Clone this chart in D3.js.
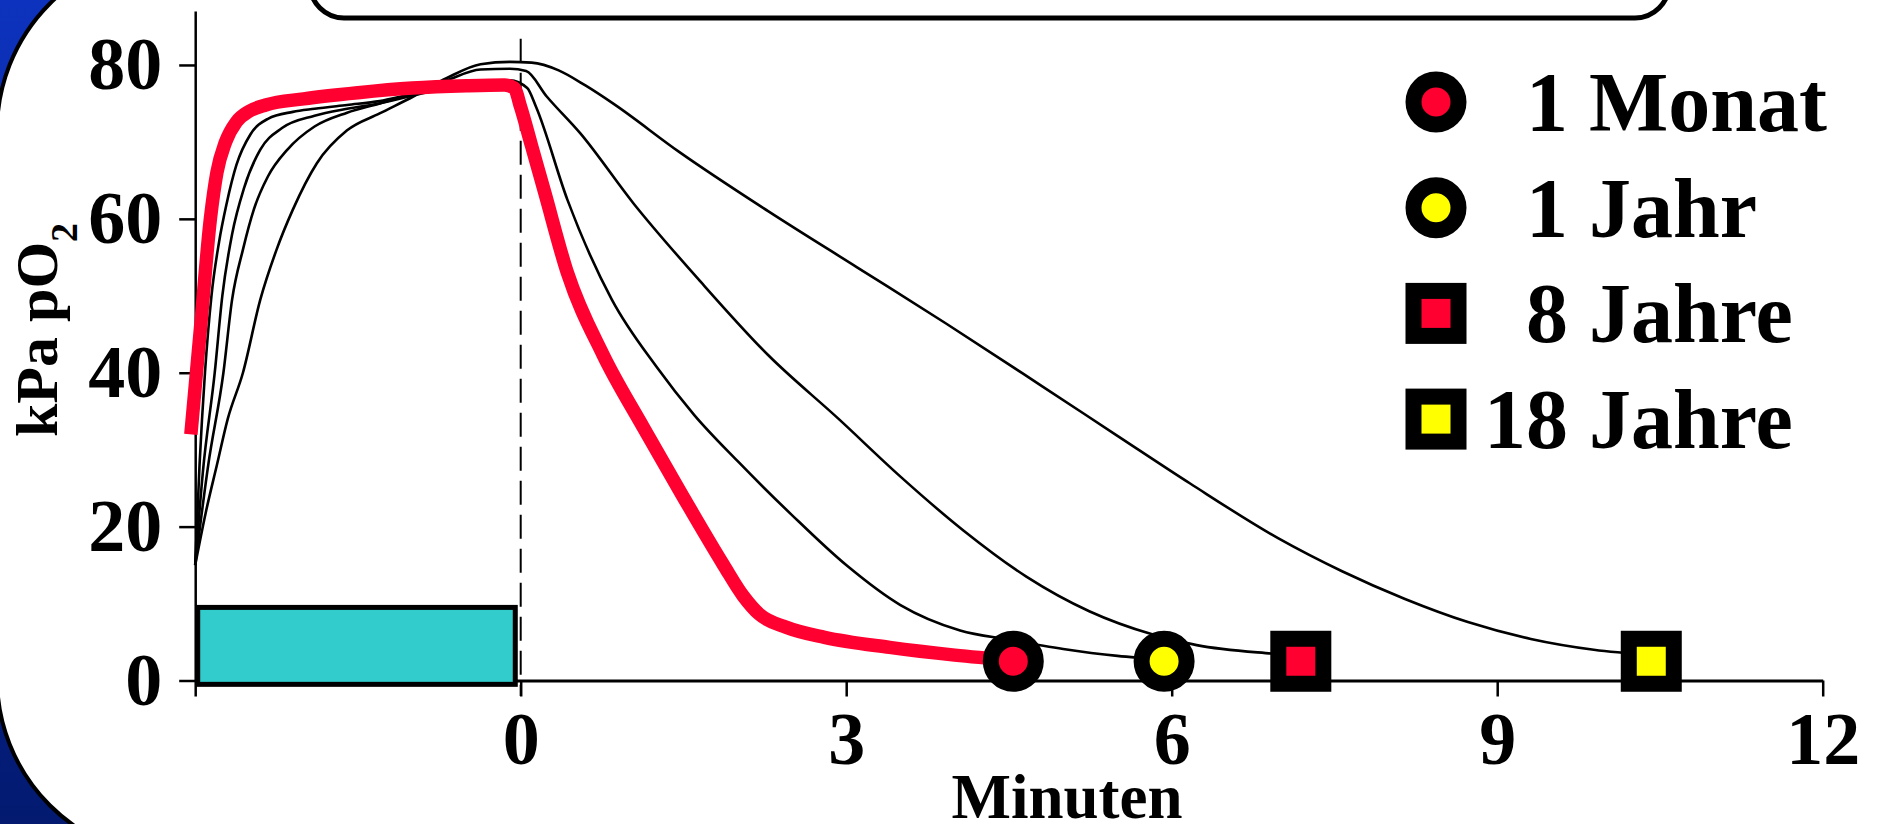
<!DOCTYPE html>
<html><head><meta charset="utf-8">
<script src="https://cdn.jsdelivr.net/npm/d3@7"></script>
<style>html,body{margin:0;padding:0;background:#fff;overflow:hidden}</style>
</head><body><svg id="c" width="1887" height="824"></svg>
<script>
// ---- data ----
const xTicks = [-3, 0, 3, 6, 9, 12];
const xTickLabels = ["", "0", "3", "6", "9", "12"];
const yTicks = [0, 20, 40, 60, 80];
const yTickLabels = ["0", "20", "40", "60", "80"];
const xTitle = "Minuten";
const yTitleMain = "kPa pO";
const yTitleSub = "2";

// 1 Monat (thick red curve)
const monatX = [-3.04, -2.95, -2.86, -2.80, -2.72, -2.62, -2.50, -2.35, -2.0, -1.5, -1.0, -0.5, -0.15, -0.06, 0.0, 0.1, 0.22, 0.43, 0.76, 1.13, 1.5, 1.87, 2.05, 2.2, 2.45, 2.8, 3.4, 4.0, 4.54];
const monatY = [32, 46, 60, 66, 70, 72.6, 74, 74.8, 75.6, 76.4, 77.0, 77.3, 77.4, 77.0, 74.5, 69.5, 63.5, 53, 42.3, 32.9, 23.8, 15, 11, 8.6, 6.9, 5.6, 4.3, 3.3, 2.6];
// underlying black curve of 1 Monat (rising part, then hidden under red)
const monatBlackX = [-3.0, -2.96, -2.91, -2.85, -2.78, -2.71, -2.62, -2.49, -2.33, -2.1, -1.9, -1.6, -1.3, -1.0, -0.7, -0.4];
const monatBlackY = [15, 28, 40, 50, 57, 62, 67, 71, 73, 73.9, 74.3, 74.8, 75.3, 76.2, 76.9, 77.2];
// 1 Jahr
const jahr1X = [-3.0, -2.93, -2.82, -2.75, -2.66, -2.55, -2.4, -2.2, -1.9, -1.6, -1.3, -1.0, -0.68, -0.37, -0.1, 0.06, 0.14, 0.43, 0.84, 1.25, 1.6, 2.0, 2.5, 3.0, 3.5, 4.05, 4.5, 5.0, 5.5, 5.93];
const jahr1Y = [15, 27, 40, 50, 58, 64, 69, 71.8, 73.4, 74.3, 75, 76, 77, 77.8, 78, 77, 74.6, 62.5, 49.5, 40.8, 34.5, 28.5, 21.5, 15, 9.8, 6.5, 5.3, 4.1, 3.2, 2.7];
// 8 Jahre
const jahre8X = [-3.0, -2.88, -2.74, -2.66, -2.56, -2.46, -2.33, -2.15, -1.9, -1.6, -1.3, -1.0, -0.68, -0.37, -0.1, 0.05, 0.24, 0.55, 1.04, 1.66, 2.28, 2.93, 3.5, 4.08, 4.66, 5.24, 5.82, 6.23, 6.92, 7.19];
const jahre8Y = [15, 28, 40, 49.5, 56, 61.2, 65.5, 69, 72, 73.8, 75, 76.3, 78, 79.4, 79.5, 79.2, 75.9, 71.1, 62, 51.8, 42.3, 34, 26.5, 19.5, 13.5, 9.0, 6.0, 4.6, 3.5, 3.2];
// 18 Jahre
const jahre18X = [-3.0, -2.9, -2.8, -2.7, -2.56, -2.4, -2.25, -2.1, -1.88, -1.6, -1.3, -0.99, -0.68, -0.37, -0.1, 0.1, 0.35, 0.6, 0.85, 1.46, 2.28, 3.1, 3.92, 4.8, 5.5, 6.17, 6.98, 7.57, 8.15, 8.73, 9.31, 9.89, 10.42];
const jahre18Y = [15, 22, 28, 34, 40, 49.5, 56, 61.2, 67.2, 71.5, 73.7, 75.9, 78.3, 80.1, 80.4, 80.3, 79.3, 77.3, 75, 68.7, 61, 53.7, 46.4, 38.3, 31.8, 25.6, 18.5, 14.2, 10.6, 7.6, 5.4, 4.0, 3.3];

// end markers / legend
const markerLabels = ["1 Monat", "1 Jahr", "8 Jahre", "18 Jahre"];
const markerX = [4.54, 5.93, 7.19, 10.42];
const markerY = [2.5, 2.5, 2.5, 2.5];
const markerShape = ["circle", "circle", "square", "square"];
const markerFill = ["#ff0030", "#ffff00", "#ff0030", "#ffff00"];

// cyan bar (inspiration period)
const barX = [-3, -0.05];
const barY = [-0.5, 9.5];
const zeroLineY = [83.4, -2];

// ---- drawing ----
const W = 1887, H = 824;
const svg = d3.select("#c");
const FONT = "'Liberation Serif','Times New Roman',serif";

const x = d3.scaleLinear().domain([-3, 12]).range([195.2, 1822.7]);
const y = d3.scaleLinear().domain([0, 87]).range([680.5, 11.1]);

// background
const defs = svg.append("defs");
const grad = defs.append("linearGradient").attr("id", "bg").attr("x1", 0).attr("y1", 0).attr("x2", 0).attr("y2", 1);
grad.append("stop").attr("offset", "0%").attr("stop-color", "#0d32bd");
grad.append("stop").attr("offset", "100%").attr("stop-color", "#031a70");
svg.append("rect").attr("width", W).attr("height", H).attr("fill", "url(#bg)");
svg.append("rect").attr("x", -3).attr("y", -49).attr("width", 2200).attr("height", 907)
  .attr("rx", 180).attr("ry", 180).attr("fill", "#fff").attr("stroke", "#000").attr("stroke-width", 4);

// title box (cut off at top)
svg.append("rect").attr("x", 310).attr("y", -120).attr("width", 1359).attr("height", 138)
  .attr("rx", 34).attr("fill", "#fff").attr("stroke", "#000").attr("stroke-width", 5);

// axes
const gx = svg.append("g").attr("transform", `translate(0,${y(0)})`)
  .call(d3.axisBottom(x).tickValues(xTicks).tickFormat((d, i) => xTickLabels[i])
    .tickSize(16).tickSizeOuter(0).tickPadding(15));
gx.select(".domain").attr("stroke-width", 3);
gx.selectAll(".tick line").attr("stroke-width", 2.5);
gx.selectAll("text").attr("font-family", FONT).attr("font-weight", "bold").attr("font-size", 74).attr("fill", "#000");

const gy = svg.append("g").attr("transform", `translate(${x(-3)},0)`)
  .call(d3.axisLeft(y).tickValues(yTicks).tickFormat((d, i) => yTickLabels[i])
    .tickSize(16).tickSizeOuter(0).tickPadding(17));
gy.select(".domain").attr("stroke-width", 2.5);
gy.selectAll(".tick line").attr("stroke-width", 2.5);
gy.selectAll("text").attr("font-family", FONT).attr("font-weight", "bold").attr("font-size", 74).attr("fill", "#000");

// cyan bar
svg.append("rect")
  .attr("x", x(barX[0]) + 2.5).attr("y", y(barY[1]))
  .attr("width", x(barX[1]) - x(barX[0]) - 2.5).attr("height", y(barY[0]) - y(barY[1]))
  .attr("fill", "#33cccc").attr("stroke", "#000").attr("stroke-width", 5);

// dashed zero line
svg.append("line").attr("x1", x(0)).attr("x2", x(0)).attr("y1", y(zeroLineY[0])).attr("y2", y(zeroLineY[1]))
  .attr("stroke", "#000").attr("stroke-width", 2).attr("stroke-dasharray", "24,10");

// curves
const line = d3.line().x(d => x(d[0])).y(d => y(d[1])).curve(d3.curveMonotoneX);
const zip = (a, b) => a.map((v, i) => [v, b[i]]);
const blackSeries = [[monatBlackX, monatBlackY], [jahr1X, jahr1Y], [jahre8X, jahre8Y], [jahre18X, jahre18Y]];
blackSeries.forEach(([xs, ys]) => {
  svg.append("path").attr("d", line(zip(xs, ys))).attr("fill", "none")
    .attr("stroke", "#000").attr("stroke-width", 2.6).attr("stroke-linejoin", "round");
});
svg.append("path").attr("d", line(zip(monatX, monatY))).attr("fill", "none")
  .attr("stroke", "#ff0030").attr("stroke-width", 13.5).attr("stroke-linejoin", "round");

// marker drawing helper
function drawMarker(g, cx, cy, shape, fill) {
  if (shape === "circle") {
    g.append("circle").attr("cx", cx).attr("cy", cy).attr("r", 22.5)
      .attr("fill", fill).attr("stroke", "#000").attr("stroke-width", 16);
  } else {
    g.append("rect").attr("x", cx - 22.5).attr("y", cy - 22.5).attr("width", 45).attr("height", 45)
      .attr("fill", fill).attr("stroke", "#000").attr("stroke-width", 16);
  }
}
const gm = svg.append("g");
markerLabels.forEach((lab, i) => drawMarker(gm, x(markerX[i]), y(markerY[i]), markerShape[i], markerFill[i]));

// legend
const legX = 1436, legY0 = 102, legDy = 105.7;
const gl = svg.append("g");
markerLabels.forEach((lab, i) => {
  const cy = legY0 + i * legDy;
  drawMarker(gl, legX, cy, markerShape[i], markerFill[i]);
  const parts = lab.split(" ");
  gl.append("text").attr("x", 1568).attr("y", cy + 29).attr("text-anchor", "end")
    .attr("font-family", FONT).attr("font-weight", "bold").attr("font-size", 84).text(parts[0]);
  gl.append("text").attr("x", 1589).attr("y", cy + 29).attr("text-anchor", "start")
    .attr("font-family", FONT).attr("font-weight", "bold").attr("font-size", 84).text(parts[1]);
});

// axis titles
svg.append("text").attr("x", 1067).attr("y", 818).attr("text-anchor", "middle")
  .attr("font-family", FONT).attr("font-weight", "bold").attr("font-size", 63).text(xTitle);
const yt = svg.append("text").attr("transform", "translate(57,437) rotate(-90)")
  .attr("font-family", FONT).attr("font-weight", "bold").attr("font-size", 60);
yt.append("tspan").text(yTitleMain);
yt.append("tspan").attr("dy", 20).attr("font-size", 38).text(yTitleSub);
</script>
</body></html>
